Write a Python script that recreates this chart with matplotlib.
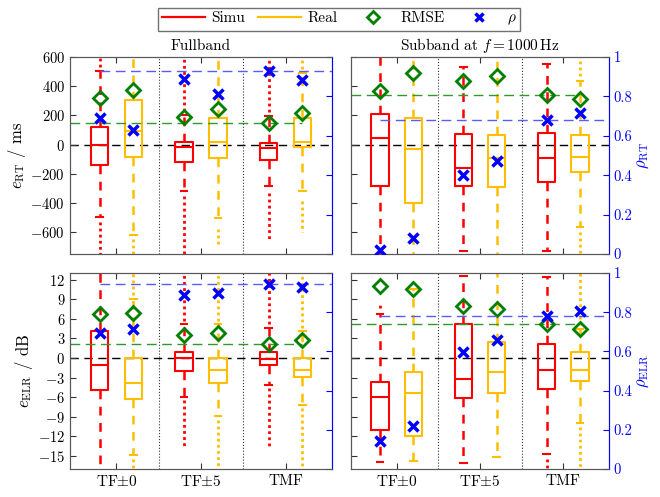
import numpy as np
import matplotlib
matplotlib.use('Agg')
import matplotlib.pyplot as plt
from matplotlib.lines import Line2D

plt.rcParams['font.family'] = 'serif'
plt.rcParams['font.serif'] = ['cmr10']
plt.rcParams['mathtext.fontset'] = 'cm'
plt.rcParams['axes.unicode_minus'] = False
plt.rcParams['axes.formatter.use_mathtext'] = True
plt.rcParams['font.size'] = 10.5

groups = ['TF$\\pm$0', 'TF$\\pm$5', 'TMF']
series = ['Simu', 'Real']
# box order: Simu TF0, Real TF0, Simu TF5, Real TF5, Simu TMF, Real TMF

# Fullband, reverberation time error (ms)
rt_full_q1 = [-142, -85, -117, -89, -108, -16]
rt_full_med = [0, 95, -14, 16, -23, 16]
rt_full_q3 = [118, 304, 16, 185, 9, 185]
rt_full_wlo = [-497, -618, -319, -502, -284, -319]
rt_full_whi = [501, 650, 200, 598, 195, 490]
rt_full_out_lo = [(-530, -760), (-650, -760), (-350, -760), (-580, -705), (-330, -660), (-390, -600)]
rt_full_out_hi = [(530, 620), None, (230, 620), None, (225, 620), (520, 620)]
rt_full_rmse = [318, 375, 190, 247, 146, 213]
rt_full_rho = [0.688, 0.627, 0.89, 0.813, 0.927, 0.881]

# Subband 1000 Hz, reverberation time error (ms)
rt_sub_q1 = [-284, -403, -284, -291, -257, -188]
rt_sub_med = [43, -32, -158, -89, -89, -85]
rt_sub_q3 = [208, 181, 73, 66, 76, 64]
rt_sub_wlo = [-800, -800, -731, -800, -731, -563]
rt_sub_whi = [800, 800, 529, 800, 552, 437]
rt_sub_out_lo = [None, None, None, None, None, (-600, -760)]
rt_sub_out_hi = [None, None, None, None, None, (470, 620)]
rt_sub_rmse = [364, 490, 433, 471, 341, 311]
rt_sub_rho = [0.02, 0.08, 0.399, 0.474, 0.679, 0.717]

# Fullband, early-to-late ratio error (dB)
elr_full_q1 = [-4.87, -6.29, -2.07, -3.86, -1.11, -2.99]
elr_full_med = [-1.11, -3.86, -0.05, -1.87, -0.1, -1.87]
elr_full_q3 = [4.11, 0.0, 0.97, 0.06, 0.97, 0.0]
elr_full_wlo = [-20, -14.8, -6.03, -8.93, -4.1, -7.16]
elr_full_whi = [20, 9.09, 5.13, 5.13, 4.6, 4.11]
elr_full_out_lo = [None, (-15.5, -17.5), (-6.5, -13.5), (-9.5, -16.5), (-4.6, -13.5), (-7.6, -17.5)]
elr_full_out_hi = [None, (9.6, 13.5), (5.6, 13.5), (5.6, 13.5), (5.2, 13.5), (4.6, 12.5)]
elr_full_rmse = [6.76, 6.91, 3.56, 3.76, 2.2, 2.7]
elr_full_rho = [0.692, 0.714, 0.888, 0.90, 0.942, 0.93]

# Subband 1000 Hz, early-to-late ratio error (dB)
elr_sub_q1 = [-10.97, -11.88, -6.19, -5.38, -4.77, -3.6]
elr_sub_med = [-6.03, -5.42, -3.25, -2.13, -1.87, -1.83]
elr_sub_q3 = [-3.66, -2.13, 5.13, 2.44, 2.19, 0.91]
elr_sub_wlo = [-16, -15.7, -16.1, -15.2, -14.75, -10.0]
elr_sub_whi = [6.76, 10.6, 12.5, 14, 12.4, 4.4]
elr_sub_out_lo = [None, None, None, None, (-15.5, -17.5), (-10.5, -17.5)]
elr_sub_out_hi = [(7.7, 8.4), None, None, None, None, (5.0, 13.5)]
elr_sub_rmse = [10.97, 10.6, 7.92, 7.52, 5.13, 4.37]
elr_sub_rho = [0.144, 0.219, 0.598, 0.658, 0.782, 0.808]

colors = ['#ff0000', '#ffbf00']
rmse_color = '#008000'
rho_color = '#0000ff'
positions = [0.8, 1.2, 1.8, 2.2, 2.8, 3.2]


def draw_panel(ax, q1, med, q3, wlo, whi, out_lo, out_hi, rmse, rho):
    ax.axhline(0, color='k', lw=1, ls=(0, (6, 4)), zorder=1)
    for xs in [1.5, 2.5]:
        ax.axvline(xs, color='0.2', lw=0.8, ls=':', zorder=1)

    for i, p in enumerate(positions):
        c = colors[i % 2]
        st = dict(med=med[i], q1=q1[i], q3=q3[i], whislo=wlo[i], whishi=whi[i], fliers=[])
        ax.bxp([st], positions=[p], widths=0.21, capwidths=0.08, showfliers=False,
               manage_ticks=False,
               boxprops=dict(color=c, lw=1.5),
               medianprops=dict(color=c, lw=1.5),
               whiskerprops=dict(color=c, lw=1.8, ls=(0, (3.5, 3))),
               capprops=dict(color=c, lw=1.5))
        for rng in (out_lo[i], out_hi[i]):
            if rng is not None:
                ax.plot([p, p], list(rng), color=c, lw=2, ls=(0, (1, 1.2)), zorder=2)

    # reference line at Simu TMF RMSE
    ax.plot([ax.get_xlim()[0], positions[-1]], [rmse[4], rmse[4]],
            color='#2e9a2e', lw=1, ls=(0, (7, 4)), zorder=2)
    ax.plot(positions, rmse, ls='none', marker='D', ms=7, mfc='none',
            mec=rmse_color, mew=2, zorder=5)

    ax2 = ax.twinx()
    ax2.set_ylim(0, 1)
    ax2.plot([positions[0], ax.get_xlim()[1]], [rho[4], rho[4]],
             color='#5a5aff', lw=1, ls=(0, (7, 4)), zorder=2)
    ax2.plot(positions, rho, ls='none', marker='x', ms=7, mec=rho_color, mew=2.5, zorder=5)
    ax2.set_yticks(np.arange(0, 1.01, 0.2))
    ax2.set_yticklabels(['0', '0.2', '0.4', '0.6', '0.8', '1'])
    ax2.tick_params(direction='in', length=4, colors=rho_color)
    ax2.spines['right'].set_color(rho_color)
    for s in ['top', 'bottom', 'left']:
        ax2.spines[s].set_color('0.35')
    return ax2


fig = plt.figure(figsize=(6.6, 4.97), dpi=100)
rects = [
    [70 / 660, 1 - 254 / 497, 262 / 660, 197 / 497],
    [351 / 660, 1 - 254 / 497, 258 / 660, 197 / 497],
    [70 / 660, 1 - 469 / 497, 262 / 660, 196 / 497],
    [351 / 660, 1 - 469 / 497, 258 / 660, 196 / 497],
]
panels = [
    (rt_full_q1, rt_full_med, rt_full_q3, rt_full_wlo, rt_full_whi, rt_full_out_lo, rt_full_out_hi, rt_full_rmse, rt_full_rho),
    (rt_sub_q1, rt_sub_med, rt_sub_q3, rt_sub_wlo, rt_sub_whi, rt_sub_out_lo, rt_sub_out_hi, rt_sub_rmse, rt_sub_rho),
    (elr_full_q1, elr_full_med, elr_full_q3, elr_full_wlo, elr_full_whi, elr_full_out_lo, elr_full_out_hi, elr_full_rmse, elr_full_rho),
    (elr_sub_q1, elr_sub_med, elr_sub_q3, elr_sub_wlo, elr_sub_whi, elr_sub_out_lo, elr_sub_out_hi, elr_sub_rmse, elr_sub_rho),
]

for k, (rect, data) in enumerate(zip(rects, panels)):
    ax = fig.add_axes(rect)
    ax.set_xlim(0.45, 3.55)
    if k < 2:
        ax.set_ylim(-750, 600)
        ax.set_yticks(np.arange(-600, 601, 200))
    else:
        ax.set_ylim(-17, 13)
        ax.set_yticks(np.arange(-15, 13, 3))
    ax.set_xticks([1, 2, 3])
    ax.tick_params(direction='in', length=4, top=True, color='0.2')
    for s in ax.spines.values():
        s.set_color('0.35')
    ax2 = draw_panel(ax, *data)
    if k < 2:
        ax.set_xticklabels([])
    else:
        ax.set_xticklabels(groups, fontsize=11)
    if k % 2 == 0:
        ax2.set_yticklabels([])
    else:
        ax.tick_params(labelleft=False)

    if k == 0:
        ax.set_ylabel('$e_{\\mathrm{RT}}$ / ms', fontsize=12, labelpad=2)
        ax.set_title('Fullband', fontsize=11, pad=5)
    elif k == 1:
        ax.set_title('Subband at $f = 1000\\,$Hz', fontsize=11, pad=5)
        ax2.set_ylabel('$\\rho_{\\mathrm{RT}}$', fontsize=12, color=rho_color, labelpad=2)
    elif k == 2:
        ax.set_ylabel('$e_{\\mathrm{ELR}}$ / dB', fontsize=12, labelpad=2)
    else:
        ax2.set_ylabel('$\\rho_{\\mathrm{ELR}}$', fontsize=12, color=rho_color, labelpad=2)

handles = [
    Line2D([], [], color=colors[0], lw=1.6),
    Line2D([], [], color=colors[1], lw=1.6),
    Line2D([], [], ls='none', marker='D', ms=6, mfc='none', mec=rmse_color, mew=2),
    Line2D([], [], ls='none', marker='x', ms=6, mec=rho_color, mew=2.5),
]
leg = fig.legend(handles, series + ['RMSE', '$\\rho$'], loc='upper center',
                 bbox_to_anchor=(0.514, 1.0), ncol=4, fancybox=False,
                 edgecolor='0.3', handlelength=2.8, fontsize=11,
                 borderpad=0.25, columnspacing=0.9, handletextpad=0.4)
leg.get_frame().set_linewidth(1)

fig.savefig('out.png', dpi=100)
